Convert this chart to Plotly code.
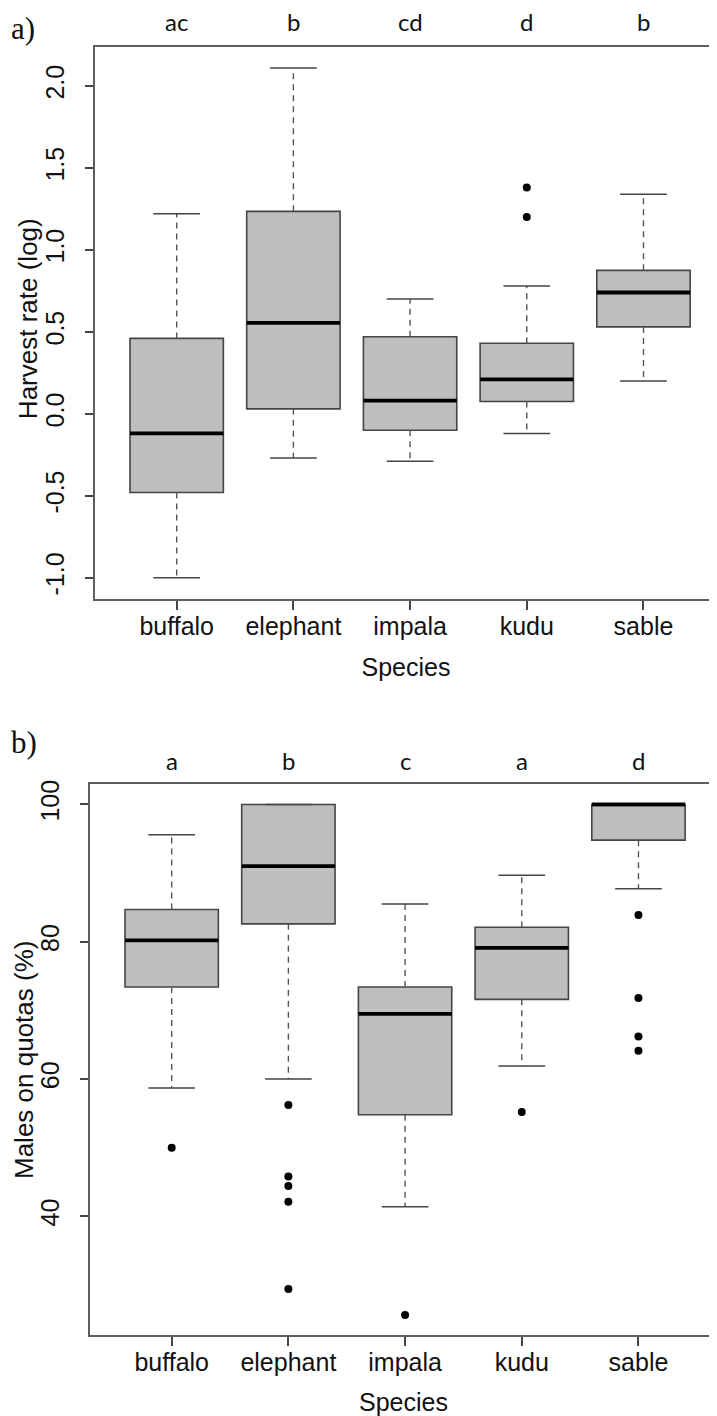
import plotly.graph_objects as go

# ---------------- data ----------------
species = ["buffalo", "elephant", "impala", "kudu", "sable"]
pos = [1, 2, 3, 4, 5]

# panel a) Harvest rate (log)
a_letters = ["ac", "b", "cd", "d", "b"]
a_lower = [-1.00, -0.27, -0.29, -0.12, 0.20]
a_q1 = [-0.48, 0.03, -0.10, 0.075, 0.53]
a_med = [-0.12, 0.555, 0.08, 0.21, 0.74]
a_q3 = [0.46, 1.235, 0.47, 0.43, 0.875]
a_upper = [1.22, 2.11, 0.70, 0.78, 1.34]
a_out = [[], [], [], [1.20, 1.38], []]
a_ticks = [-1.0, -0.5, 0.0, 0.5, 1.0, 1.5, 2.0]
a_ticktext = ["-1.0", "-0.5", "0.0", "0.5", "1.0", "1.5", "2.0"]

# panel b) Males on quotas (%)
b_letters = ["a", "b", "c", "a", "d"]
b_lower = [58.7, 60.0, 41.4, 61.9, 87.7]
b_q1 = [73.4, 82.6, 54.8, 71.6, 94.8]
b_med = [80.2, 91.0, 69.5, 79.1, 100.0]
b_q3 = [84.7, 100.0, 73.4, 82.1, 100.0]
b_upper = [95.6, 100.0, 85.5, 89.7, 100.0]
b_out = [[50.0], [56.2, 45.8, 44.4, 42.1, 29.4], [25.6], [55.2], [83.9, 71.8, 66.2, 64.1]]
b_ticks = [40, 60, 80, 100]
b_ticktext = ["40", "60", "80", "100"]

# ---------------- style ----------------
# the page body adds an 8px offset; the figure is sized/positioned to compensate
OFF = 8
W, H = 717 - OFF, 1416 - OFF
EDGE = "#454545"
FRAME = "#5e5e5e"
FILL = "#bebebe"
WHISK = "#555555"
TICKFONT = dict(family="Liberation Sans, Arial, sans-serif", size=25, color="#111111")
TITLEFONT = dict(family="Liberation Sans, Arial, sans-serif", size=26, color="#111111")
LETTERFONT = dict(family="Lato, Open Sans, sans-serif", size=24, color="#111111")
PANELFONT = dict(family="Liberation Serif, Times New Roman, serif", size=31, color="#111111")
BOXW = 0.8
CAPW = 0.4

fig = go.Figure()


def add_panel(xa, ya, lower, q1, med, q3, upper, outs):
    # dashed whiskers
    wx, wy = [], []
    for p, lo, a, b, up in zip(pos, lower, q1, q3, upper):
        wx += [p, p, None, p, p, None]
        wy += [b, up, None, a, lo, None]
    fig.add_trace(go.Scatter(x=wx, y=wy, mode="lines", xaxis=xa, yaxis=ya,
                             line=dict(color=WHISK, width=1.4, dash="6px,5px"),
                             hoverinfo="skip", showlegend=False))
    # boxes
    fig.add_trace(go.Box(x=pos, q1=q1, median=med, q3=q3, lowerfence=q1, upperfence=q3,
                         width=BOXW, whiskerwidth=0, fillcolor=FILL,
                         line=dict(color=EDGE, width=1.6), boxpoints=False,
                         xaxis=xa, yaxis=ya, hoverinfo="skip", showlegend=False))
    # whisker caps
    cx, cy = [], []
    for p, lo, up in zip(pos, lower, upper):
        cx += [p - CAPW / 2, p + CAPW / 2, None, p - CAPW / 2, p + CAPW / 2, None]
        cy += [up, up, None, lo, lo, None]
    fig.add_trace(go.Scatter(x=cx, y=cy, mode="lines", xaxis=xa, yaxis=ya,
                             line=dict(color=EDGE, width=1.5),
                             hoverinfo="skip", showlegend=False))
    # thick medians
    mx, my = [], []
    for p, m in zip(pos, med):
        mx += [p - BOXW / 2, p + BOXW / 2, None]
        my += [m, m, None]
    fig.add_trace(go.Scatter(x=mx, y=my, mode="lines", xaxis=xa, yaxis=ya,
                             line=dict(color="#000000", width=3.8),
                             hoverinfo="skip", showlegend=False))
    # outliers
    ox, oy = [], []
    for p, o in zip(pos, outs):
        ox += [p] * len(o)
        oy += o
    fig.add_trace(go.Scatter(x=ox, y=oy, mode="markers", xaxis=xa, yaxis=ya,
                             marker=dict(color="#000000", size=8),
                             hoverinfo="skip", showlegend=False))


add_panel("x", "y", a_lower, a_q1, a_med, a_q3, a_upper, a_out)
add_panel("x2", "y2", b_lower, b_q1, b_med, b_q3, b_upper, b_out)

common_x = dict(tickvals=pos, ticktext=species, ticks="outside", ticklen=9, tickwidth=1.5,
                tickcolor=EDGE, showline=True, linecolor=FRAME, linewidth=1.8, mirror=True,
                showgrid=False, zeroline=False, tickfont=TICKFONT, ticklabelstandoff=-5,
                title=dict(text="Species", font=TICKFONT, standoff=20))
common_y = dict(ticks="outside", ticklen=8, tickwidth=1.5, tickcolor=EDGE, tickangle=-90,
                showline=True, linecolor=FRAME, linewidth=1.8, mirror=False,
                showgrid=False, zeroline=False, tickfont=TICKFONT, ticklabelstandoff=11)


def px_y(v):
    return 1 - (v - OFF) / H


def px_x(v):
    return (v - OFF) / W


fig.update_layout(
    width=W, height=H,
    margin=dict(l=0, r=0, t=0, b=0),
    paper_bgcolor="white", plot_bgcolor="white",
    showlegend=False,
    xaxis=dict(common_x, domain=[px_x(95), 1], range=[0.3, 5.63], anchor="y"),
    yaxis=dict(common_y, domain=[px_y(596.7), px_y(42.7)], range=[-1.13, 2.24],
               tickvals=a_ticks, ticktext=a_ticktext, anchor="x"),
    xaxis2=dict(common_x, domain=[px_x(90), 1], range=[0.3, 5.673], anchor="y2"),
    yaxis2=dict(common_y, domain=[px_y(1335), px_y(781.7)], range=[22.67, 103.05],
                tickvals=b_ticks, ticktext=b_ticktext, anchor="x2"),
)

annotations = []
for p, t in zip(pos, a_letters):
    annotations.append(dict(x=p, y=px_y(18), xref="x", yref="paper", text=t,
                            showarrow=False, font=LETTERFONT, xanchor="center", yanchor="middle"))
for p, t in zip(pos, b_letters):
    annotations.append(dict(x=p, y=px_y(759), xref="x2", yref="paper", text=t,
                            showarrow=False, font=LETTERFONT, xanchor="center", yanchor="middle"))
annotations.append(dict(x=px_x(9), y=px_y(25), xref="paper", yref="paper", text="a)",
                        showarrow=False, font=PANELFONT, xanchor="left", yanchor="middle"))
annotations.append(dict(x=px_x(9), y=px_y(741), xref="paper", yref="paper", text="b)",
                        showarrow=False, font=PANELFONT, xanchor="left", yanchor="middle"))
# y axis titles
annotations.append(dict(x=px_x(28), y=px_y(316), xref="paper", yref="paper",
                        text="Harvest rate (log)", textangle=-90, showarrow=False,
                        font=TITLEFONT, xanchor="center", yanchor="middle"))
annotations.append(dict(x=px_x(24), y=px_y(1059), xref="paper", yref="paper",
                        text="Males on quotas (%)", textangle=-90, showarrow=False,
                        font=TITLEFONT, xanchor="center", yanchor="middle"))
fig.update_layout(annotations=annotations)

fig.write_html("out.html")
